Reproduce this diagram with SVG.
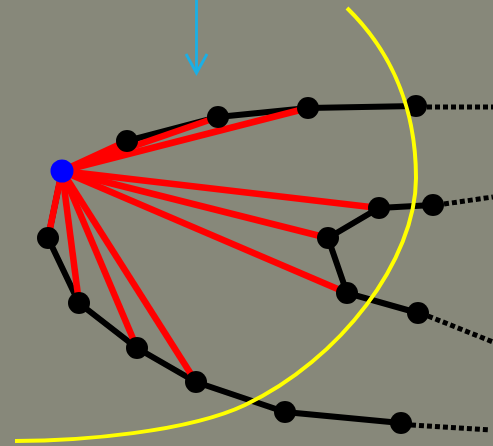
<svg xmlns="http://www.w3.org/2000/svg" width="493" height="446" viewBox="0 0 493 446">
<style>
.blk{stroke:#000;stroke-width:6;fill:none}
.dot{stroke:#000;stroke-width:5;stroke-dasharray:5 3;fill:none}
.red{stroke:#ff0000;stroke-width:6.5;fill:none}
.node{fill:#000}
.arr{stroke:#1aafe6;stroke-width:2.8;fill:none}
.yel{stroke:#ffff00;stroke-width:4;fill:none}
</style>
<rect width="493" height="446" fill="#87887a"/>
<g id="connectors">
<polyline class="blk" points="127,141 218,117 308,108 416,106"/>
<polyline class="blk" points="62,171 48,238 79,303 137,348 196,382 285,412 401,423"/>
<polyline class="blk" points="433,205 379,208 328,238 347,293 418,313"/>
<line class="dot" x1="427" y1="107" x2="493" y2="107"/>
<line class="dot" x1="444" y1="204" x2="493" y2="197"/>
<line class="dot" x1="428" y1="316" x2="493" y2="342"/>
<line class="dot" x1="411" y1="425" x2="490" y2="430"/>
<line class="red" x1="62" y1="171" x2="127" y2="141"/>
<line class="red" x1="62" y1="171" x2="218" y2="117"/>
<line class="red" x1="62" y1="171" x2="308" y2="108"/>
<line class="red" x1="62" y1="171" x2="379" y2="208"/>
<line class="red" x1="62" y1="171" x2="328" y2="238"/>
<line class="red" x1="62" y1="171" x2="347" y2="293"/>
<line class="red" x1="62" y1="171" x2="48" y2="238"/>
<line class="red" x1="62" y1="171" x2="79" y2="303"/>
<line class="red" x1="62" y1="171" x2="137" y2="348"/>
<line class="red" x1="62" y1="171" x2="196" y2="382"/>
</g>
<g id="n1"><circle class="node" cx="127" cy="141" r="11"/></g>
<g id="n2"><circle class="node" cx="218" cy="117" r="11"/></g>
<g id="n3"><circle class="node" cx="308" cy="108" r="11"/></g>
<g id="n4"><circle class="node" cx="416" cy="106" r="11"/></g>
<g id="n5"><circle class="node" cx="379" cy="208" r="11"/></g>
<g id="n6"><circle class="node" cx="433" cy="205" r="11"/></g>
<g id="n7"><circle class="node" cx="328" cy="238" r="11"/></g>
<g id="n8"><circle class="node" cx="347" cy="293" r="11"/></g>
<g id="n9"><circle class="node" cx="418" cy="313" r="11"/></g>
<g id="n10"><circle class="node" cx="48" cy="238" r="11"/></g>
<g id="n11"><circle class="node" cx="79" cy="303" r="11"/></g>
<g id="n12"><circle class="node" cx="137" cy="348" r="11"/></g>
<g id="n13"><circle class="node" cx="196" cy="382" r="11"/></g>
<g id="n14"><circle class="node" cx="285" cy="412" r="11"/></g>
<g id="n15"><circle class="node" cx="401" cy="423" r="11"/></g>
<g id="blue"><circle cx="62" cy="171" r="11.5" fill="#0000ff"/></g>
<g id="arrow">
<line class="arr" x1="196.5" y1="0" x2="196.5" y2="73"/>
<polyline class="arr" points="186,54 196.5,73 207,54"/>
</g>
<g id="arc">
<path class="yel" d="M347,8 C385,45 416,100 416,178 C416,260 340,360 245,405 C188,432 80,441 15,441"/>
</g>
</svg>
